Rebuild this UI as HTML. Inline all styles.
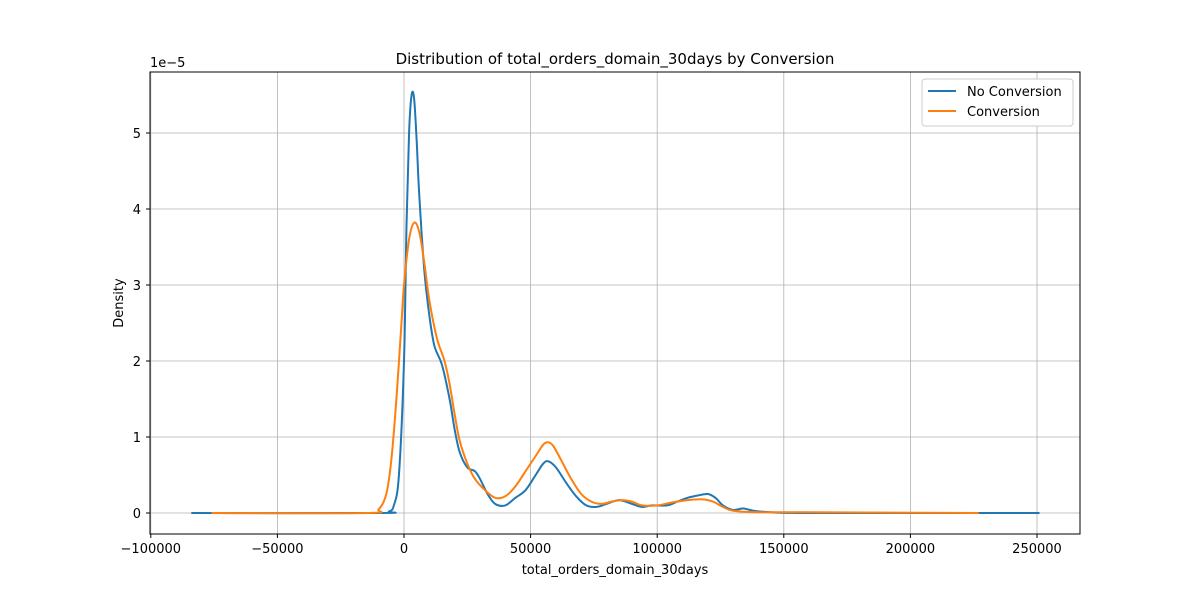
<!DOCTYPE html>
<html><head><meta charset="utf-8"><style>
body{margin:0;background:#fff;font-family:"Liberation Sans","DejaVu Sans",sans-serif;}
svg text{font-family:"DejaVu Sans","Liberation Sans",sans-serif;}
</style></head><body>
<svg id="chart" width="1200" height="600" xmlns="http://www.w3.org/2000/svg">
<rect width="1200" height="600" fill="#fff"/>
<g id="grid"></g><g id="ticks"></g><g id="series"></g>
<rect x="150" y="72" width="930" height="462" fill="none" stroke="#000" stroke-width="1"/>
<text x="615" y="64" text-anchor="middle" font-size="15">Distribution of total_orders_domain_30days by Conversion</text>
<text x="615" y="574" text-anchor="middle" font-size="13">total_orders_domain_30days</text>
<text x="123" y="303" text-anchor="middle" font-size="13" transform="rotate(-90 123 303)">Density</text>
<text x="150" y="67" font-size="13">1e−5</text>
<g>
<rect x="922" y="79" width="151" height="47" rx="3" fill="#fff" stroke="#ccc"/>
<line x1="928" y1="91" x2="956" y2="91" stroke="#1f77b4" stroke-width="2"/>
<text x="967" y="96" font-size="13">No Conversion</text>
<line x1="928" y1="111" x2="956" y2="111" stroke="#ff7f0e" stroke-width="2"/>
<text x="967" y="116" font-size="13">Conversion</text>
</g>
</svg>
<script>
const xTicks=[-100000,-50000,0,50000,100000,150000,200000,250000];
const yTicks=[0,1,2,3,4,5];
const blueX=[-84,-10,-6,-4,-2,0,1,2,3,4,5,6,8,10,12,15,18,20,22,25,28,30,33,36,40,44,48,52,55,57,60,64,68,72,76,80,85,90,94,98,104,108,112,116,120,123,126,130,134,138,145,160,251];
const blueY=[0,0,0.02,0.1,0.5,2.0,3.8,5.0,5.5,5.45,4.9,4.2,3.2,2.6,2.2,1.95,1.5,1.1,0.8,0.6,0.55,0.45,0.25,0.12,0.1,0.2,0.3,0.5,0.65,0.68,0.6,0.4,0.22,0.1,0.08,0.12,0.17,0.12,0.08,0.1,0.1,0.15,0.2,0.23,0.25,0.2,0.1,0.04,0.06,0.03,0.01,0,0];
const orangeX=[-76,-15,-10,-7,-5,-3,-1,0,2,4,6,8,10,13,16,18,20,22,25,28,32,36,40,44,48,52,55,57,59,62,66,70,74,78,82,86,90,94,100,106,112,118,122,126,130,140,160,227];
const orangeY=[0,0,0.05,0.25,0.7,1.5,2.5,3.0,3.6,3.82,3.7,3.3,2.8,2.3,2.0,1.7,1.3,0.95,0.65,0.45,0.3,0.2,0.22,0.35,0.55,0.75,0.9,0.93,0.88,0.7,0.45,0.25,0.15,0.12,0.15,0.17,0.15,0.1,0.1,0.14,0.17,0.18,0.15,0.08,0.03,0.01,0.01,0];
const sx=v=>404+(v/50000)*126.6;
const sy=v=>513-v*76;
const NS="http://www.w3.org/2000/svg";
const grid=document.getElementById('grid'),ticks=document.getElementById('ticks'),series=document.getElementById('series');
function mk(t,a,p){const e=document.createElementNS(NS,t);for(const k in a)e.setAttribute(k,a[k]);p.appendChild(e);return e;}
xTicks.forEach(v=>{const x=sx(v);
 const g=mk('line',{x1:x,x2:x,y1:72,y2:534,stroke:'#b0b0b0','stroke-width':0.8},grid);
 
 
 mk('line',{x1:x,x2:x,y1:534,y2:538,stroke:'#000'},ticks);
 const t=mk('text',{x:x,y:553,'text-anchor':'middle','font-size':13},ticks);t.textContent=String(v).replace('-','−');
 
 });
yTicks.forEach(v=>{const y=sy(v);
 const g=mk('line',{x1:150,x2:1080,y1:y,y2:y,stroke:'#b0b0b0','stroke-width':0.8},grid);
 
 
 mk('line',{x1:146,x2:150,y1:y,y2:y,stroke:'#000'},ticks);
 const t=mk('text',{x:141,y:y+5,'text-anchor':'end','font-size':13},ticks);t.textContent=v;
 
 });
function path(xs,ys){const p=xs.map((x,i)=>[sx(x*1000),sy(ys[i])]);let d='M'+p[0][0]+','+p[0][1];
 for(let i=0;i<p.length-1;i++){const p0=p[Math.max(0,i-1)],p1=p[i],p2=p[i+1],p3=p[Math.min(p.length-1,i+2)];
  const c1=[p1[0]+(p2[0]-p0[0])/6,p1[1]+(p2[1]-p0[1])/6],c2=[p2[0]-(p3[0]-p1[0])/6,p2[1]-(p3[1]-p1[1])/6];
  d+=` C${c1[0]},${c1[1]} ${c2[0]},${c2[1]} ${p2[0]},${p2[1]}`;}return d;}
const b=mk('path',{d:path(blueX,blueY),fill:'none',stroke:'#1f77b4','stroke-width':2},series);


const o=mk('path',{d:path(orangeX,orangeY),fill:'none',stroke:'#ff7f0e','stroke-width':2},series);


</script>
</body></html>
